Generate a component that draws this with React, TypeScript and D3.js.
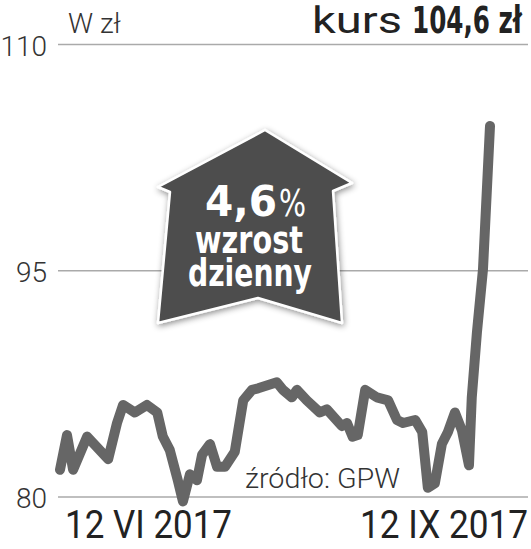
import React from "react";
import * as d3 from "d3";

// kurs akcji, dni od 12 VI 2017
const days = [0, 1.5, 2.8, 5.8, 10.3, 12.2, 13.5, 16.0, 18.6, 20.8, 22.0, 23.5, 25.2, 26.3, 27.8, 29.3, 30.4, 32.1, 33.6, 35.3, 37.4, 39.2, 41.1, 42.4, 46.4, 47.7, 49.6, 50.7, 52.8, 55.6, 57.1, 60.3, 61.4, 62.6, 63.7, 65.3, 67.8, 70.2, 72.1, 73.4, 76.0, 77.5, 78.7, 80.2, 81.7, 83.0, 84.5, 86.0, 87.5, 88.1, 89.2, 90.5, 92];
const prices = [81.8, 84.1, 81.8, 84.0, 82.5, 84.9, 86.1, 85.6, 86.1, 85.6, 84.0, 83.1, 81.1, 79.7, 81.5, 81.1, 82.8, 83.5, 82.0, 82.0, 83.0, 86.4, 87.1, 87.2, 87.6, 87.1, 86.6, 87.1, 86.4, 85.6, 85.8, 84.7, 84.9, 84.0, 84.1, 87.1, 86.6, 86.4, 85.1, 84.9, 85.1, 84.3, 80.6, 80.9, 83.5, 84.3, 85.6, 84.4, 82.1, 86.6, 90.9, 95.1, 104.6];
const yTicks = [80, 95, 110];
const dateLabels = ["12 VI 2017", "12 IX 2017"];

const W = 531;
const H = 549;

export default function App() {
  const x = d3.scaleLinear().domain([0, 92]).range([60, 490]);
  const y = d3.scaleLinear().domain([80, 110]).range([496.9, 44.5]);

  const pts: [number, number][] = days.map((d, i) => [d, prices[i]]);
  const line = d3
    .line<[number, number]>()
    .x((d) => x(d[0]))
    .y((d) => y(d[1]));

  // strzałka "dom"
  const arrow = [
    [265, 130],
    [352, 183],
    [333, 191],
    [342, 323],
    [258, 298],
    [158, 323],
    [170, 192],
    [158, 187],
  ];

  const light = "Roboto, 'DejaVu Sans', sans-serif";
  const cond = "'DejaVu Sans Condensed', 'DejaVu Sans', sans-serif";

  return (
    <svg
      width={W}
      height={H}
      style={{ position: "absolute", left: 0, top: 0, background: "#fff" }}
    >
      <defs>
        <filter id="sh" x="-20%" y="-20%" width="140%" height="140%">
          <feDropShadow dx="1" dy="2" stdDeviation="3" floodColor="#000" floodOpacity="0.45" />
        </filter>
      </defs>

      {yTicks.map((t) => (
        <g key={t}>
          <line x1={58} x2={528} y1={y(t)} y2={y(t)} stroke="#aaa" strokeWidth={1.5} />
          <text
            x={47}
            y={y(t) + 11}
            textAnchor="end"
            fontFamily={light}
            fontWeight={300}
            fontSize={28}
            fill="#333"
          >
            {t}
          </text>
        </g>
      ))}

      <text x={68} y={33} fontFamily={light} fontWeight={300} fontSize={28} fill="#333">
        W zł
      </text>
      <text x={312} y={33} fontFamily={light} fontSize={37} fill="#222" textLength={90} lengthAdjust="spacingAndGlyphs">
        kurs
      </text>
      <text x={412} y={33} fontFamily={cond} fontWeight="bold" fontSize={37} fill="#222" textLength={110} lengthAdjust="spacingAndGlyphs">
        104,6 zł
      </text>

      <text x={245} y={488} fontFamily={light} fontWeight={300} fontSize={27} fill="#333" textLength={155} lengthAdjust="spacingAndGlyphs">
        źródło: GPW
      </text>

      <path
        d={line(pts) || ""}
        fill="none"
        stroke="#666"
        strokeWidth={10}
        strokeLinejoin="round"
        strokeLinecap="round"
      />

      <polygon
        points={arrow.map((p) => p.join(",")).join(" ")}
        fill="#4d4d4d"
        stroke="#fff"
        strokeWidth={2.5}
        strokeLinejoin="round"
        filter="url(#sh)"
      />
      <text x={205} y={216} fontFamily={cond} fontWeight="bold" fontSize={42} fill="#fff" textLength={72} lengthAdjust="spacingAndGlyphs">
        4,6
      </text>
      <text x={279} y={216} fontFamily={cond} fontSize={38} fill="#fff" textLength={27} lengthAdjust="spacingAndGlyphs">
        %
      </text>
      <text x={195} y={253} fontFamily={cond} fontWeight="bold" fontSize={38} fill="#fff" textLength={108} lengthAdjust="spacingAndGlyphs">
        wzrost
      </text>
      <text x={188} y={286} fontFamily={cond} fontWeight="bold" fontSize={37} fill="#fff" textLength={124} lengthAdjust="spacingAndGlyphs">
        dzienny
      </text>

      <text x={65} y={538} fontFamily={light} fontSize={39} fill="#222" textLength={167} lengthAdjust="spacingAndGlyphs">
        {dateLabels[0]}
      </text>
      <text x={360} y={538} fontFamily={light} fontSize={39} fill="#222" textLength={168} lengthAdjust="spacingAndGlyphs">
        {dateLabels[1]}
      </text>
    </svg>
  );
}
